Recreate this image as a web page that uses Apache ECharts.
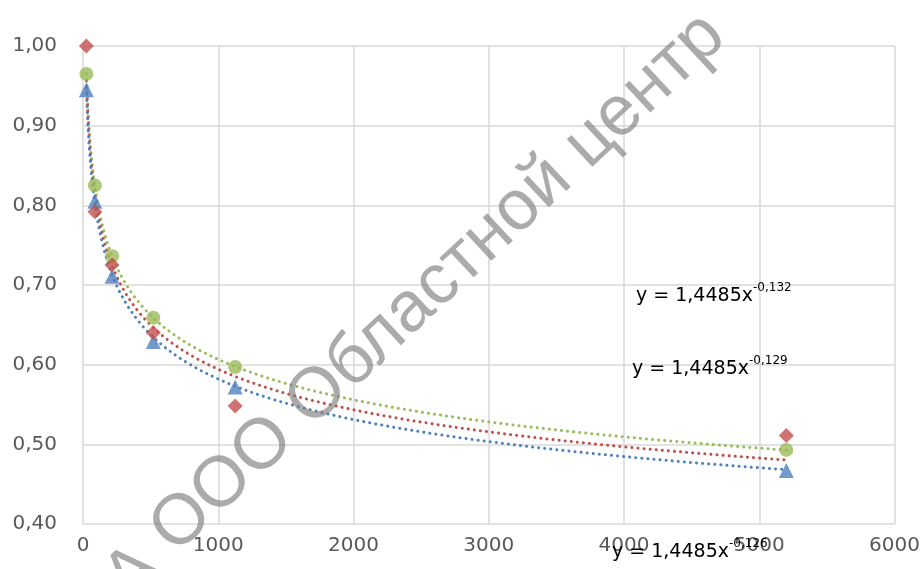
<!DOCTYPE html>
<html>
<head>
<meta charset="utf-8">
<script src="https://cdn.jsdelivr.net/npm/echarts@6/dist/echarts.min.js"></script>
<style>
html,body{margin:0;padding:0;background:#fff;}
#chart{width:923px;height:569px;}
</style>
</head>
<body>
<div id="chart"></div>
<script>
// x positions of the measurements
var xValues = [25, 88, 215, 520, 1125, 5200];
// series values
var redValues   = [1.000, 0.792, 0.725, 0.640, 0.548, 0.511];
var blueValues  = [0.945, 0.805, 0.711, 0.629, 0.572, 0.467];
var greenValues = [0.965, 0.825, 0.736, 0.659, 0.597, 0.493];
// trendline parameters as printed on the chart (y = a * x^b)
var trendA = 1.4485;
var blueExp  = -0.132;
var redExp   = -0.129;
var greenExp = -0.126;
// axis tick labels
var yTicks = [0.40, 0.50, 0.60, 0.70, 0.80, 0.90, 1.00];
var xTicks = [0, 1000, 2000, 3000, 4000, 5000, 6000];
// trendline equation labels
var eqMain = 'y = 1,4485x';
var eqExps = ['-0,132', '-0,129', '-0,126'];
var watermark = 'ООО Областной центр';

var RED = '#C0504D', BLUE = '#4F81BD', GREEN = '#9BBB59';

function pairs(xs, ys){ return xs.map(function(x,i){ return [x, ys[i]]; }); }

// sample the printed power trendline over the data's x range
function powerTrend(a, b, xs){
  var pts=[], x0=Math.min.apply(null,xs), x1=Math.max.apply(null,xs);
  var steps=240;
  for (var k=0;k<=steps;k++){
    var x=x0*Math.pow(x1/x0,k/steps);
    pts.push([x, a*Math.pow(x,b)]);
  }
  return pts;
}

function trendSeries(color, b, xs){
  return {
    type:'line', data: powerTrend(trendA, b, xs), showSymbol:false, symbol:'none',
    smooth:false, silent:true, z:3,
    lineStyle:{color:color, width:3, type:[0.1,6], cap:'round'}
  };
}
function pointSeries(color, symbol, size, xs, ys, z){
  return {
    type:'scatter', data: pairs(xs, ys), symbol:symbol, symbolSize:size, z:z,
    itemStyle:{color:color}
  };
}

var chart = echarts.init(document.getElementById('chart'), null, {renderer:'canvas'});

var eqStyle = {
  a:{fontFamily:'DejaVu Sans', fontSize:19, color:'#707070', verticalAlign:'bottom', lineHeight:24},
  b:{fontFamily:'DejaVu Sans', fontSize:12, color:'#707070', verticalAlign:'top', lineHeight:24, padding:[0,0,12,0]}
};
function eqText(exp){ return '{a|'+eqMain+'}{b|'+exp+'}'; }

var ang = 43*Math.PI/180;
var wmFill = 'rgba(128,128,128,0.66)';

chart.setOption({
  backgroundColor:'#ffffff',
  animation:false,
  grid:{left:83, right:24, top:46, bottom:45, containLabel:false},
  xAxis:{
    type:'value', min:xTicks[0], max:xTicks[xTicks.length-1], interval:1000,
    axisLine:{show:false}, axisTick:{show:false},
    splitLine:{show:true, lineStyle:{color:'#d9d9d9', width:1.5}},
    axisLabel:{color:'#595959', fontFamily:'DejaVu Sans', fontSize:20, margin:12,
      formatter:function(v){ return String(v); }}
  },
  yAxis:{
    type:'value', min:yTicks[0], max:yTicks[yTicks.length-1], interval:0.1,
    axisLine:{show:false}, axisTick:{show:false},
    splitLine:{show:true, lineStyle:{color:'#d9d9d9', width:1.5}},
    axisLabel:{color:'#595959', fontFamily:'DejaVu Sans', fontSize:20, margin:26,
      formatter:function(v){ return v.toFixed(2).replace('.', ','); }}
  },
  series:[
    trendSeries(GREEN, greenExp, xValues),
    trendSeries(RED, redExp, xValues),
    trendSeries(BLUE, blueExp, xValues),
    pointSeries(GREEN, 'circle', 14, xValues, greenValues, 4),
    pointSeries(BLUE, 'triangle', 15, xValues, blueValues, 5),
    pointSeries(RED, 'diamond', 15, xValues, redValues, 6)
  ],
  graphic:[
    {type:'text', x:636, y:294, z:10, silent:true,
      style:{text:eqText(eqExps[0]), rich:eqStyle, verticalAlign:'middle', align:'left'}},
    {type:'text', x:632, y:367, z:10, silent:true,
      style:{text:eqText(eqExps[1]), rich:eqStyle, verticalAlign:'middle', align:'left'}},
    {type:'text', x:612, y:550, z:10, silent:true,
      style:{text:eqText(eqExps[2]), rich:eqStyle, verticalAlign:'middle', align:'left'}},
    {type:'text', x:162, y:541, rotation:ang, z:20, silent:true,
      style:{text:watermark, fontFamily:'Liberation Sans', fontSize:71,
        fill:wmFill, align:'left', verticalAlign:'middle'}},
    {type:'text', x:133, y:574, rotation:ang, z:20, silent:true,
      style:{text:'А', fontFamily:'Liberation Sans', fontSize:71,
        fill:wmFill, align:'center', verticalAlign:'middle'}},
    {type:'rect', z:21, silent:true, shape:{x:0, y:0, width:923, height:13},
      style:{fill:'#ffffff'}}
  ]
});
</script>
</body>
</html>
